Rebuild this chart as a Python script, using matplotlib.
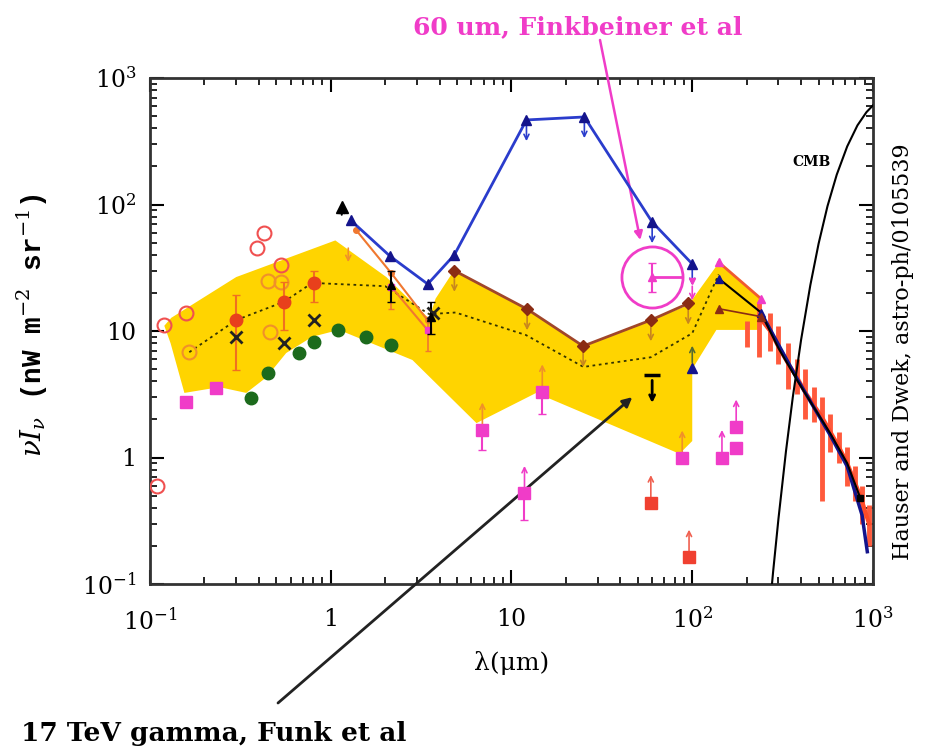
import numpy as np
import matplotlib
matplotlib.use("Agg")
import matplotlib.pyplot as plt

plt.rcParams['mathtext.fontset'] = 'dejavuserif'
plt.rcParams['font.family'] = 'DejaVu Serif'

# yellow band of EBL estimates (upper edge left->right, lower edge right->left)
band_up_x = [0.12, 0.131, 0.30, 1.06, 2.03, 3.5, 3.8, 4.8, 12.2, 25, 59, 95, 140, 240]
band_up_y = [11.0, 12.7, 26.7, 52, 26.7, 12.5, 18, 30, 14.9, 7.6, 12.2, 16, 34.5, 18]
band_lo_x = [240, 136, 100, 100, 85, 13.7, 6.4, 2.83, 1.11, 0.79, 0.567, 0.44, 0.341, 0.242, 0.155, 0.13]
band_lo_y = [10.2, 10.2, 5.0, 1.35, 1.07, 3.24, 1.87, 5.9, 10.2, 9.0, 6.7, 4.3, 3.24, 3.6, 3.24, 8.0]

# dotted central estimate
dot_x = [0.165, 0.30, 0.55, 0.79, 2.0, 3.5, 4.9, 12, 25, 59, 100, 140]
dot_y = [6.8, 12.2, 17, 24, 22.6, 13.6, 14, 9.3, 5.2, 6.2, 9.6, 28]

# DIRBE upper limits (blue) and brown limits
blue_x = [1.29, 2.13, 3.44, 4.83, 12.1, 25.3, 60, 100]
blue_y = [75, 39, 23.5, 40, 466, 492, 72.7, 33.9]
brown_x = [4.83, 12.2, 24.9, 59, 95]
brown_y = [30, 14.9, 7.6, 12.2, 16.5]

# UV / optical points
red_open_x = [0.11, 0.12, 0.159, 0.39, 0.43, 0.53]
red_open_y = [0.6, 11.1, 13.9, 45, 60, 33]
orange_open_x = [0.165, 0.45, 0.53, 0.46]
orange_open_y = [6.8, 25, 24.5, 9.8]
red_x = [0.30, 0.55, 0.81]
red_y = np.array([12.2, 17, 24])
red_lo = np.array([4.9, 10.2, 17])
red_hi = np.array([19.3, 24.4, 30])
cross_x = [0.30, 0.55, 0.81, 3.7]
cross_y = [9.0, 8.0, 12.2, 14]
green_x = [0.362, 0.447, 0.67, 0.81, 1.09, 1.57, 2.16]
green_y = np.array([2.95, 4.66, 6.7, 8.2, 10.2, 9.0, 7.7])

# near-IR measurements
nir_x = [1.38, 2.16, 3.43]
nir_y = [62.9, 28.7, 12.2]
nir2_x = [2.16, 3.43]
nir2_y = np.array([22.4, 10.2])
nir2_lo = np.array([15, 7])
nir2_hi = np.array([30, 13])
blk_x = [2.16, 3.6]
blk_y = np.array([23, 13])
blk_lo = np.array([17, 9.5])
blk_hi = np.array([30, 17])

# lower limits (squares)
mag_sq_x = [0.159, 0.233, 6.9, 14.8, 11.8, 88, 146, 175, 175]
mag_sq_y = [2.75, 3.54, 1.65, 3.3, 0.52, 0.99, 1.0, 1.19, 1.74]
red_sq_x = [59, 96]
red_sq_y = [0.44, 0.163]

# far-IR
fir_top_x = [140, 240]
fir_top_y = [35, 18]
fir_mid_x = [140, 240]
fir_mid_y = [26, 14]
fir_low_x = [140, 240]
fir_low_y = [15, 13]

firas_x = np.array([200, 234, 270, 300, 340, 380, 420, 470, 520, 580, 650, 720, 800, 870, 950])
firas_y = np.array([10.5, 13, 10, 7.5, 5.5, 4.3, 3.3, 2.6, 2.1, 1.6, 1.2, 0.9, 0.62, 0.45, 0.3])
firas_lo = np.array([7.5, 6.2, 7, 5.5, 3.5, 3.2, 2.0, 1.9, 0.45, 1.1, 0.9, 0.6, 0.45, 0.3, 0.2])
firas_hi = np.array([12, 17, 14, 11, 8, 6, 5, 3.6, 3.0, 2.2, 1.6, 1.2, 0.85, 0.6, 0.42])
fblue_x = [240, 300, 380, 470, 580, 720, 870, 930]
fblue_y = [14, 7.8, 4.2, 2.5, 1.5, 0.85, 0.35, 0.18]
fblack_x = [240, 300, 380, 470, 580, 720, 850]
fblack_y = [14, 7.3, 4.1, 2.5, 1.55, 0.9, 0.48]

# CMB blackbody
cmb_x = [262, 280, 300, 330, 360, 400, 450, 500, 560, 630, 720, 820, 920, 1000]
cmb_y = [0.044, 0.124, 0.33, 1.12, 3.0, 8.5, 23, 49, 97, 172, 288, 422, 537, 608]

fink_x, fink_y, fink_lo, fink_hi = 60, 26.7, 20.3, 34.5
funk_x, funk_y = 60, 4.5

xticks = [0.1, 1, 10, 100, 1000]
tick_labels = ['10$^{-1}$', '1', '10', '10$^{2}$', '10$^{3}$']

BLUE = '#2a3ccc'
DBLUE = '#14148c'
BROWN = '#8a2c14'
MAG = '#f03cc8'
ORANGE = '#f0902a'
GREEN = '#1c6a1c'

fig = plt.figure(figsize=(9.28, 7.54), dpi=100)
ax = fig.add_axes([150/928, 170/754, 723/928, 506/754])
ax.set_xscale('log')
ax.set_yscale('log')
ax.set_xlim(0.1, 1000)
ax.set_ylim(0.1, 1000)


def arrows(xs, ys, f, color, lw=1.2):
    for x, y in zip(xs, ys):
        ax.annotate('', xy=(x, y * f), xytext=(x, y),
                    arrowprops=dict(arrowstyle='->', color=color, lw=lw,
                                    shrinkA=4, shrinkB=0, mutation_scale=9))


ax.fill(band_up_x + band_lo_x, band_up_y + band_lo_y, color='#ffd400', lw=0, zorder=1)
ax.plot(dot_x, dot_y, ls=(0, (1.5, 2)), color='#333300', lw=1.3, zorder=3)

# FIRAS region
ax.errorbar(firas_x, firas_y, yerr=[firas_y - firas_lo, firas_hi - firas_y], fmt='none',
            ecolor='#ff5a3c', elinewidth=3.5, zorder=3)
ax.plot(firas_x[1:], firas_y[1:], color='#ff4a28', lw=3, zorder=3)
ax.plot(fblue_x, fblue_y, color=DBLUE, lw=2.5, zorder=4)
ax.plot(fblack_x, fblack_y, color='k', lw=1.5, zorder=4)
ax.plot(fblack_x[-1], fblack_y[-1], 's', color='k', ms=5, zorder=5)

# far-IR lines 140-240
ax.plot(fir_top_x, fir_top_y, color='#f05a30', lw=2, marker='^', ms=6, mfc=MAG, mec=MAG, zorder=4)
ax.plot(fir_mid_x, fir_mid_y, color='k', lw=1.5, marker='^', ms=6, mfc=DBLUE, mec=DBLUE, zorder=4)
ax.plot(fir_low_x, fir_low_y, color=BROWN, lw=1.2, marker='^', ms=6, zorder=4)

# CMB
ax.plot(cmb_x, cmb_y, color='k', lw=1.5, zorder=4)
ax.text(456, 217, 'CMB', fontsize=10, weight='bold', ha='center', va='center')

# blue DIRBE upper limits
ax.plot(blue_x, blue_y, color=BLUE, lw=2, marker='^', ms=7, mfc=DBLUE, mec=DBLUE, zorder=5)
arrows(blue_x[4:], blue_y[4:], 0.68, BLUE)
ax.plot(100, 5.1, '^', color=DBLUE, ms=7, zorder=5)
arrows([100], [5.1], 1.5, '#556b2f')
ax.plot(100, 25, 'v', color=MAG, ms=5, zorder=5)
arrows([100], [25], 0.7, MAG)

# brown line
ax.plot(brown_x, brown_y, color='#a0462a', lw=2, marker='D', ms=6, mfc=BROWN, mec=BROWN, zorder=5)
arrows(brown_x, brown_y, 0.68, '#c8861e')

# near-IR
ax.plot(nir_x, nir_y, color='#f07830', lw=1.5, marker='o', ms=4, zorder=4)
ax.plot(nir2_x, nir2_y, color='#f07830', lw=1.5, zorder=4)
ax.errorbar(nir2_x, nir2_y, yerr=[nir2_y - nir2_lo, nir2_hi - nir2_y], fmt='s', color=MAG,
            ecolor='#f07830', ms=4, elinewidth=1.2, capsize=2, zorder=5)
ax.errorbar(blk_x, blk_y, yerr=[blk_y - blk_lo, blk_hi - blk_y], fmt='^', color='k',
            ms=6, elinewidth=1.5, capsize=3, zorder=6)
ax.plot(1.15, 95, '^', color='k', ms=8, zorder=6)
arrows([1.15], [75], 1.3, 'k', lw=1.5)
arrows([1.25], [50], 0.7, ORANGE)

# UV / optical
ax.plot(red_open_x, red_open_y, 'o', mfc='none', mec='#f05050', ms=10, mew=1.5, zorder=5)
ax.plot(orange_open_x, orange_open_y, 'o', mfc='none', mec=ORANGE, ms=10, mew=1.5, zorder=5)
ax.errorbar(red_x, red_y, yerr=[red_y - red_lo, red_hi - red_y], fmt='o', color='#e8401c',
            ecolor='#f07020', ms=9, elinewidth=1.5, capsize=3, zorder=6)
ax.plot(cross_x, cross_y, 'x', color='#222222', ms=8, mew=2, zorder=6)
ax.errorbar(green_x, green_y, yerr=0.12 * green_y, fmt='o', color=GREEN, ms=9,
            elinewidth=1.5, zorder=6)

# lower limit squares
ax.plot(mag_sq_x, mag_sq_y, 's', color=MAG, ms=9, zorder=6)
arrows(mag_sq_x[2:4] + [88], mag_sq_y[2:4] + [0.99], 1.65, ORANGE)
arrows([11.8, 146, 175], [0.52, 1.0, 1.74], 1.65, MAG)
ax.errorbar(mag_sq_x[2:5], mag_sq_y[2:5], yerr=[[0.5, 1.1, 0.2], [0, 0, 0]], fmt='none',
            ecolor=MAG, elinewidth=1.5, capsize=3, zorder=5)
ax.plot(red_sq_x, red_sq_y, 's', color='#f04030', ms=9, zorder=6)
arrows(red_sq_x, red_sq_y, 1.65, '#f06050')

# Funk upper limit
ax.plot(funk_x, funk_y, '_', color='k', ms=12, mew=2.5, zorder=6)
arrows([funk_x], [funk_y], 0.6, 'k', lw=2)

# Finkbeiner point
ax.errorbar(fink_x, fink_y, yerr=[[fink_y - fink_lo], [fink_hi - fink_y]], fmt='^', color=MAG,
            ms=6, elinewidth=1.5, capsize=3, zorder=7)
ax.plot([fink_x, 88], [fink_y, fink_y], color=MAG, lw=2, zorder=7)
ax.plot(fink_x, fink_y, 'o', mfc='none', mec=MAG, ms=44, mew=2, zorder=7)

# annotations
fig.text(578/928, 1 - 27/754, '60 um, Finkbeiner et al', color=MAG, fontsize=18,
         weight='bold', ha='center', va='center')
ax.annotate('', xy=(51.6, 52.4), xycoords='data', xytext=(600/928, 1 - 40/754),
            textcoords='figure fraction',
            arrowprops=dict(arrowstyle='-|>', color=MAG, lw=1.8, shrinkA=0, shrinkB=0,
                            mutation_scale=12))
fig.text(21/928, 1 - 733/754, '17 TeV gamma, Funk et al', color='k', fontsize=19,
         weight='bold', ha='left', va='center')
ax.annotate('', xy=(46.6, 3.0), xycoords='data', xytext=(278/928, 1 - 703/754),
            textcoords='figure fraction', annotation_clip=False,
            arrowprops=dict(arrowstyle='-|>', color='#222222', lw=2, shrinkA=0, shrinkB=0,
                            mutation_scale=14))

# axes styling
ax.set_xticks(xticks)
ax.set_xticklabels(tick_labels)
ax.set_yticks(xticks)
ax.set_yticklabels(tick_labels)
ax.tick_params(which='both', direction='in', top=True, right=True)
ax.tick_params(which='major', length=10, width=1.5)
ax.tick_params(which='minor', length=5, width=1.2)
ax.tick_params(axis='x', pad=17, labelsize=17)
ax.tick_params(axis='y', pad=10, labelsize=17)
for s in ax.spines.values():
    s.set_linewidth(2)
    s.set_color('#333333')

ax.set_xlabel('λ(μm)', fontsize=18, labelpad=12)
fig.text(32/928, 1 - 325/754, r'$\nu I_\nu$ (nW m$^{-2}$ sr$^{-1}$)', rotation=90,
         family='Liberation Mono', weight='bold', fontsize=20, ha='center', va='center')
fig.text(903/928, 1 - 352/754, 'Hauser and Dwek, astro-ph/0105539', rotation=90,
         fontsize=16, ha='center', va='center')

fig.savefig('out.png', dpi=100)
